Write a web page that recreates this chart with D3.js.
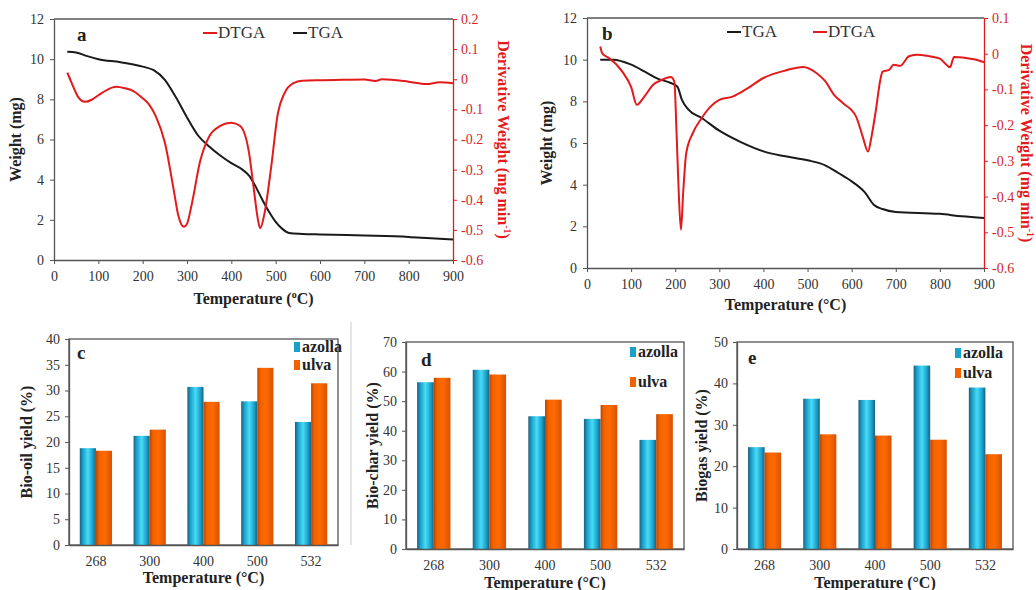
<!DOCTYPE html>
<html>
<head>
<meta charset="utf-8">
<script src="https://cdn.jsdelivr.net/npm/d3@7"></script>
<style>
  body { margin: 0; background: #fff; }
</style>
</head>
<body>
<div id="chart"></div>
<script>
// ---- data ----
const tgaATemp = [30, 50, 75, 100, 150, 200, 225, 250, 275, 300, 325, 350, 375, 400, 425, 440, 450, 470, 485, 500, 515, 530, 560, 600, 700, 800, 850, 900];
const tgaAWeight = [10.37, 10.33, 10.15, 10.0, 9.85, 9.63, 9.45, 8.97, 8.1, 7.1, 6.2, 5.65, 5.2, 4.82, 4.5, 4.2, 3.85, 3.0, 2.4, 1.9, 1.55, 1.35, 1.3, 1.27, 1.22, 1.15, 1.08, 1.02];
const dtgaATemp = [30, 35, 45, 55, 70, 85, 100, 120, 140, 160, 180, 200, 215, 230, 250, 270, 280, 293, 300, 310, 330, 350, 375, 400, 420, 440, 450, 460, 465, 475, 490, 505, 520, 540, 560, 600, 650, 700, 725, 740, 800, 840, 870, 900];
const dtgaAValue = [0.022, 0.005, -0.03, -0.06, -0.075, -0.068, -0.053, -0.035, -0.025, -0.03, -0.04, -0.063, -0.085, -0.124, -0.21, -0.367, -0.45, -0.49, -0.48, -0.42, -0.27, -0.19, -0.155, -0.144, -0.155, -0.245, -0.356, -0.466, -0.495, -0.444, -0.29, -0.113, -0.046, -0.013, -0.005, -0.003, -0.002, -0.001, -0.006, 0.0, -0.008, -0.016, -0.01, -0.013];

const tgaBTemp = [30, 60, 100, 130, 160, 190, 205, 215, 230, 260, 300, 350, 400, 450, 500, 540, 570, 600, 630, 650, 670, 700, 800, 850, 900];
const tgaBWeight = [10.0, 10.0, 9.76, 9.44, 9.09, 8.88, 8.7, 8.08, 7.6, 7.2, 6.59, 6.03, 5.6, 5.36, 5.17, 4.93, 4.56, 4.16, 3.63, 3.04, 2.83, 2.69, 2.6, 2.48, 2.4];
const dtgaBTemp = [30, 35, 50, 80, 100, 113, 130, 150, 170, 190, 198, 203, 208, 213, 218, 225, 240, 260, 280, 300, 330, 360, 400, 450, 490, 520, 540, 560, 580, 610, 625, 637, 645, 655, 665, 670, 685, 695, 710, 730, 750, 780, 800, 815, 823, 832, 860, 880, 900];
const dtgaBValue = [0.02, 0.0, -0.012, -0.05, -0.093, -0.143, -0.12, -0.087, -0.073, -0.065, -0.078, -0.22, -0.39, -0.493, -0.39, -0.278, -0.222, -0.18, -0.148, -0.129, -0.12, -0.1, -0.068, -0.047, -0.037, -0.054, -0.077, -0.115, -0.138, -0.176, -0.232, -0.274, -0.232, -0.157, -0.073, -0.05, -0.045, -0.031, -0.034, -0.007, -0.003, -0.008, -0.014, -0.031, -0.038, -0.009, -0.012, -0.016, -0.024];

const categories = ["268", "300", "400", "500", "532"];
const bioOilAzolla = [18.8, 21.2, 30.7, 27.9, 23.9];
const bioOilUlva = [18.3, 22.4, 27.8, 34.4, 31.4];
const bioCharAzolla = [56.4, 60.6, 44.9, 44.0, 36.9];
const bioCharUlva = [57.9, 59.0, 50.5, 48.7, 45.6];
const biogasAzolla = [24.6, 36.3, 36.0, 44.3, 39.0];
const biogasUlva = [23.3, 27.7, 27.4, 26.4, 22.9];

const width = 1036, height = 590;
const RED = "#e31a1c", AXIS = "#555", TXT = "#333";
const SERIF = "'Liberation Serif', 'Times New Roman', 'DejaVu Serif', serif";

const svg = d3.select("#chart").append("svg")
  .attr("width", width).attr("height", height)
  .style("font-family", SERIF);

const defs = svg.append("defs");
function hGrad(id, stops) {
  const g = defs.append("linearGradient").attr("id", id)
    .attr("x1", "0%").attr("x2", "100%").attr("y1", "0%").attr("y2", "0%");
  stops.forEach(s => g.append("stop").attr("offset", s[0]).attr("stop-color", s[1]));
}
hGrad("gAzolla", [["0%", "#1c5f7c"], ["18%", "#1a9cc6"], ["50%", "#47dcf8"], ["82%", "#1a9cc6"], ["100%", "#1c5f7c"]]);
hGrad("gUlva", [["0%", "#b84500"], ["20%", "#f26200"], ["55%", "#ff6a00"], ["100%", "#d85200"]]);

function txt(sel) {
  return sel.append("text").style("font-family", SERIF);
}

function styleAxis(g, color) {
  g.attr("font-family", null);
  g.select(".domain").attr("stroke", color || AXIS).attr("stroke-width", 1.3);
  g.selectAll(".tick line").attr("stroke", color || AXIS);
  g.selectAll(".tick text").attr("fill", color || TXT)
    .style("font-family", SERIF).style("font-size", "14px");
}

// superscript helper
function titleWithSup(sel, before, sup, after) {
  sel.append("tspan").text(before);
  sel.append("tspan").attr("dy", -6).style("font-size", "10px").text(sup);
  sel.append("tspan").attr("dy", 6).text(after);
}

// ---- TGA / DTGA panels ----
function tgaPanel(o) {
  const x = d3.scaleLinear().domain([0, 900]).range([o.left, o.right]);
  const y = d3.scaleLinear().domain([0, 12]).range([o.bottom, o.top]);
  const y2 = d3.scaleLinear().domain([-0.6, o.dMax]).range([o.bottom, o.top]);

  // top border
  svg.append("line").attr("x1", o.left).attr("x2", o.right)
    .attr("y1", o.top).attr("y2", o.top).attr("stroke", AXIS).attr("stroke-width", 1.3);

  const gx = svg.append("g").attr("transform", `translate(0,${o.bottom})`)
    .call(d3.axisBottom(x).tickValues(d3.range(0, 901, 100)).tickSize(4).tickSizeOuter(0).tickPadding(7));
  styleAxis(gx);
  const gy = svg.append("g").attr("transform", `translate(${o.left},0)`)
    .call(d3.axisLeft(y).tickValues(d3.range(0, 13, 2)).tickSize(4).tickSizeOuter(0).tickPadding(6));
  styleAxis(gy);
  const gy2 = svg.append("g").attr("transform", `translate(${o.right},0)`)
    .call(d3.axisRight(y2).ticks(o.nTicks).tickSize(4).tickSizeOuter(0).tickPadding(4)
      .tickFormat(d => (Math.round(d * 10) / 10).toString()));
  styleAxis(gy2, RED);
  gy2.selectAll(".tick text").attr("fill", "#d2262c");

  const line = d3.line().x(d => x(d[0])).y(d => y(d[1])).curve(d3.curveMonotoneX);
  const line2 = d3.line().x(d => x(d[0])).y(d => y2(d[1])).curve(d3.curveMonotoneX);

  svg.append("path").datum(o.tgaT.map((t, i) => [t, o.tgaW[i]]))
    .attr("d", line).attr("fill", "none").attr("stroke", "#1a1a1a").attr("stroke-width", 2);
  svg.append("path").datum(o.dT.map((t, i) => [t, o.dV[i]]))
    .attr("d", line2).attr("fill", "none").attr("stroke", RED).attr("stroke-width", 2);

  // panel letter
  txt(svg).attr("x", o.letterX).attr("y", o.top + 22)
    .style("font-size", "19px").style("font-weight", "bold").attr("fill", "#222").text(o.letter);

  // legend
  o.legend.forEach(l => {
    svg.append("line").attr("x1", l.x).attr("x2", l.x + 14)
      .attr("y1", o.top + 14).attr("y2", o.top + 14).attr("stroke", l.color).attr("stroke-width", 2);
    txt(svg).attr("x", l.x + 15).attr("y", o.top + 19)
      .style("font-size", "17px").attr("fill", "#333").text(l.name);
  });

  // axis titles
  const xt = txt(svg).attr("x", (o.left + o.right) / 2).attr("y", o.xTitleY)
    .attr("text-anchor", "middle").style("font-size", "16px").style("font-weight", "bold").attr("fill", "#222");
  if (o.supO) titleWithSup(xt, "Temperature (", "o", "C)");
  else xt.text("Temperature (\u00B0C)");

  txt(svg).attr("transform", `translate(${o.yTitleX},${(o.top + o.bottom) / 2}) rotate(-90)`)
    .attr("text-anchor", "middle").style("font-size", "16px").style("font-weight", "bold")
    .attr("fill", "#222").text("Weight (mg)");

  const rt = txt(svg).attr("transform", `translate(${o.y2TitleX},${(o.top + o.bottom) / 2}) rotate(90)`)
    .attr("text-anchor", "middle").style("font-size", "16px").style("font-weight", "bold")
    .attr("fill", RED);
  titleWithSup(rt, "Derivative Weight (mg min", "-1", ")");
}

tgaPanel({
  left: 54, right: 453, top: 19, bottom: 260, dMax: 0.2, nTicks: 8,
  tgaT: tgaATemp, tgaW: tgaAWeight, dT: dtgaATemp, dV: dtgaAValue,
  letter: "a", letterX: 77, supO: true,
  legend: [{ name: "DTGA", color: RED, x: 203 }, { name: "TGA", color: "#1a1a1a", x: 293 }],
  xTitleY: 304, yTitleX: 21, y2TitleX: 498
});
tgaPanel({
  left: 587, right: 984, top: 18, bottom: 268, dMax: 0.1, nTicks: 7,
  tgaT: tgaBTemp, tgaW: tgaBWeight, dT: dtgaBTemp, dV: dtgaBValue,
  letter: "b", letterX: 602, supO: false,
  legend: [{ name: "TGA", color: "#1a1a1a", x: 727 }, { name: "DTGA", color: RED, x: 813 }],
  xTitleY: 310, yTitleX: 552, y2TitleX: 1021
});

// ---- yield bar panels ----
function barPanel(o) {
  const x0 = d3.scaleBand().domain(categories).range([o.left, o.right]).paddingInner(0.4).paddingOuter(0.2);
  const x1 = d3.scaleBand().domain(["azolla", "ulva"]).range([0, x0.bandwidth()]);
  const y = d3.scaleLinear().domain([0, o.yMax]).range([o.bottom, o.top]);

  svg.append("rect").attr("x", o.left).attr("y", o.top)
    .attr("width", o.right - o.left).attr("height", o.bottom - o.top)
    .attr("fill", "none").attr("stroke", AXIS).attr("stroke-width", 1.3);

  const rows = categories.map((c, i) => ({ c, azolla: o.az[i], ulva: o.ul[i] }));
  const groups = svg.append("g").selectAll("g").data(rows).join("g")
    .attr("transform", d => `translate(${x0(d.c)},0)`);
  groups.selectAll("rect").data(d => ["azolla", "ulva"].map(k => ({ k, v: d[k] }))).join("rect")
    .attr("x", d => x1(d.k)).attr("width", x1.bandwidth())
    .attr("y", d => y(d.v)).attr("height", d => y(0) - y(d.v))
    .attr("fill", d => d.k === "azolla" ? "url(#gAzolla)" : "url(#gUlva)");

  const gx = svg.append("g").attr("transform", `translate(0,${o.bottom})`)
    .call(d3.axisBottom(x0).tickSize(0).tickPadding(11));
  styleAxis(gx);
  const gy = svg.append("g").attr("transform", `translate(${o.left},0)`)
    .call(d3.axisLeft(y).ticks(o.yMax / o.step).tickSize(4).tickSizeOuter(0).tickPadding(5));
  styleAxis(gy);

  txt(svg).attr("x", o.letterX).attr("y", o.top + o.letterDy)
    .style("font-size", "19px").style("font-weight", "bold").attr("fill", "#222").text(o.letter);

  [["azolla", "#1aa0c9", o.legY[0]], ["ulva", "#f26200", o.legY[1]]].forEach(l => {
    svg.append("rect").attr("x", o.legX).attr("y", l[2] - 5).attr("width", 6).attr("height", 10).attr("fill", l[1]);
    txt(svg).attr("x", o.legX + 8).attr("y", l[2] + 5)
      .style("font-size", "16px").style("font-weight", "bold").attr("fill", "#222").text(l[0]);
  });

  txt(svg).attr("x", (o.left + o.right) / 2).attr("y", o.xTitleY)
    .attr("text-anchor", "middle").style("font-size", "16px").style("font-weight", "bold")
    .attr("fill", "#222").text("Temperature (\u00B0C)");
  txt(svg).attr("transform", `translate(${o.yTitleX},${(o.top + o.bottom) / 2}) rotate(-90)`)
    .attr("text-anchor", "middle").style("font-size", "16px").style("font-weight", "bold")
    .attr("fill", "#222").text(o.yTitle);
}

barPanel({ left: 69, right: 338, top: 339, bottom: 545, yMax: 40, step: 5,
  az: bioOilAzolla, ul: bioOilUlva, letter: "c", letterX: 77, letterDy: 20,
  legX: 294, legY: [347, 365], xTitleY: 583, yTitleX: 32, yTitle: "Bio-oil yield (%)" });
barPanel({ left: 406, right: 684, top: 342, bottom: 549, yMax: 70, step: 10,
  az: bioCharAzolla, ul: bioCharUlva, letter: "d", letterX: 421, letterDy: 24,
  legX: 630, legY: [352, 382], xTitleY: 588, yTitleX: 378, yTitle: "Bio-char yield (%)" });
barPanel({ left: 737, right: 1013, top: 342, bottom: 549, yMax: 50, step: 10,
  az: biogasAzolla, ul: biogasUlva, letter: "e", letterX: 748, letterDy: 22,
  legX: 955, legY: [353, 373], xTitleY: 588, yTitleX: 707, yTitle: "Biogas yield (%)" });

// faint panel frame between c and d
svg.append("line").attr("x1", 351).attr("x2", 351).attr("y1", 322).attr("y2", 545)
  .attr("stroke", "#ccc").attr("stroke-width", 1);
</script>
</body>
</html>
